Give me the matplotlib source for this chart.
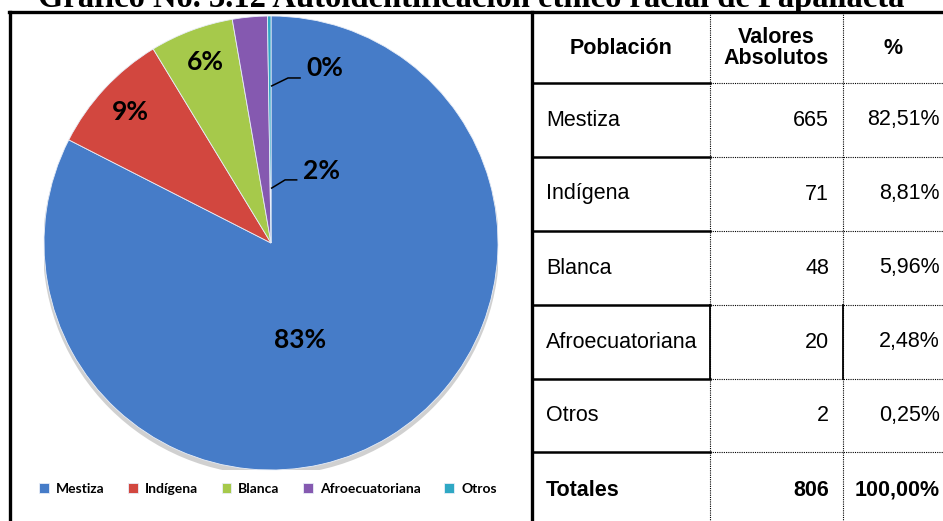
import matplotlib.pyplot as plt
import numpy as np

# data
categorias = ['Mestiza', 'Indígena', 'Blanca', 'Afroecuatoriana', 'Otros']
absolutos = [665, 71, 48, 20, 2]
porcentajes = ['82,51%', '8,81%', '5,96%', '2,48%', '0,25%']
etiquetas_pie = ['83%', '9%', '6%', '2%', '0%']
total_abs = '806'
total_pct = '100,00%'
colores = ['#467cc8', '#d2473f', '#a6c94b', '#8559b0', '#2fa8c4']

W, H = 943, 521
fig = plt.figure(figsize=(W / 100, H / 100), dpi=100)

# full-figure axes in pixel coordinates (y downward)
bg = fig.add_axes([0, 0, 1, 1])
bg.set_xlim(0, W)
bg.set_ylim(H, 0)
bg.axis('off')

# title (cut at top, as in the source)
bg.text(471, 7, 'Gráfico No. 3.12 Autoidentificación étnico racial de Papallacta',
        family='Liberation Serif', fontweight='bold', fontsize=23.5,
        ha='center', va='baseline')

# borders of chart box and table
bg.plot([10, 10], [12, H], color='black', lw=2.4)
bg.plot([9, W], [12, 12], color='black', lw=2.4)
bg.plot([532, 532], [12, H], color='black', lw=2.4)

filas_y = [83, 157, 231, 305, 379, 452]
for y in filas_y:
    bg.plot([532, 710], [y, y], color='black', lw=1.8)
    bg.plot([710, W], [y, y], color='black', lw=0.8, ls=(0, (1, 1)))
for x in [710, 843]:
    bg.plot([x, x], [12, H], color='black', lw=0.8, ls=(0, (1, 1)))
    bg.plot([x, x], [305, 379], color='black', lw=1.3)

# table text
fs = 15.5
bg.text(621, 48, 'Población', family='Liberation Sans', fontweight='bold',
        fontsize=fs, ha='center', va='center')
bg.text(776, 48, 'Valores\nAbsolutos', family='Liberation Sans', fontweight='bold',
        fontsize=fs, ha='center', va='center', linespacing=0.95)
bg.text(893, 48, '%', family='Liberation Sans', fontweight='bold',
        fontsize=fs, ha='center', va='center')
for i, (c, a, p) in enumerate(zip(categorias, absolutos, porcentajes)):
    yc = (filas_y[i] + filas_y[i + 1]) / 2
    bg.text(546, yc, c, family='Liberation Sans', fontsize=fs, ha='left', va='center')
    bg.text(829, yc, str(a), family='Liberation Sans', fontsize=fs, ha='right', va='center')
    bg.text(940, yc, p, family='Liberation Sans', fontsize=fs, ha='right', va='center')
bg.text(546, 490, 'Totales', family='Liberation Sans', fontweight='bold',
        fontsize=fs, ha='left', va='center')
bg.text(829, 490, total_abs, family='Liberation Sans', fontweight='bold',
        fontsize=fs, ha='right', va='center')
bg.text(940, 490, total_pct, family='Liberation Sans', fontweight='bold',
        fontsize=fs, ha='right', va='center')

# pie
cx, cy, r = 271, 243, 227
ax = fig.add_axes([(cx - r) / W, (H - cy - r) / H, 2 * r / W, 2 * r / H])

sombra = plt.Circle((0.0, -0.018), 1.005, color='#7a7a7a', alpha=0.35, lw=0)
ax.add_patch(sombra)
wedges, _ = ax.pie(absolutos, colors=colores, startangle=90, counterclock=False,
                   radius=1, wedgeprops=dict(edgecolor='#e8eef8', linewidth=0.6))
ax.set_xlim(-1, 1)
ax.set_ylim(-1, 1)
ax.set_aspect('equal')
ax.axis('off')

lbl = dict(family='Lato', fontweight='bold', fontsize=19, ha='center', va='center')
ax.text(0.128, -0.427, etiquetas_pie[0], **lbl)
ax.text(-0.621, 0.577, etiquetas_pie[1], **lbl)
ax.text(-0.291, 0.797, etiquetas_pie[2], **lbl)
ax.text(0.222, 0.317, etiquetas_pie[3], **lbl)
ax.text(0.235, 0.771, etiquetas_pie[4], **lbl)
ax.plot([0.003, 0.062, 0.113], [0.242, 0.278, 0.278], color='black', lw=1.1)
ax.plot([0.003, 0.075, 0.128], [0.692, 0.727, 0.727], color='black', lw=1.1)

leg = fig.legend(wedges, categorias, loc='center', bbox_to_anchor=(268 / W, 1 - 489 / H),
                 ncol=5, frameon=False, handlelength=0.7, handleheight=0.7,
                 handletextpad=0.5, columnspacing=1.7,
                 prop=dict(family='Lato', weight='bold', size=10))

fig.savefig('out.png', dpi=100)
